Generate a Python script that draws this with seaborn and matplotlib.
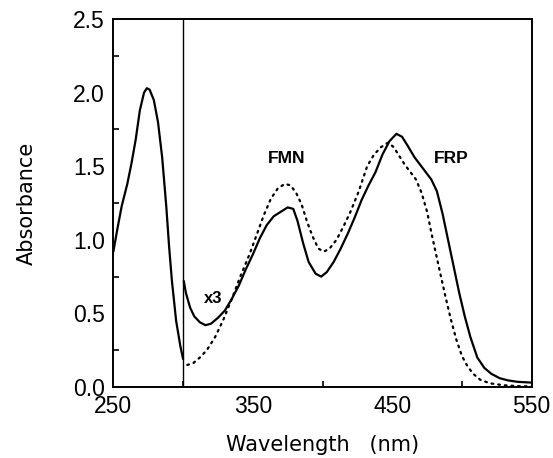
import numpy as np
import pandas as pd
import matplotlib
matplotlib.use("Agg")
import matplotlib.pyplot as plt
import seaborn as sns
from matplotlib.ticker import MultipleLocator, FixedLocator

# UV region of FRP (250-300 nm)
uv_nm = [250, 253, 256, 260, 263, 266, 269, 272, 274, 276, 279, 282, 285, 288, 290, 292, 295, 298, 300]
uv_abs = [0.92, 1.08, 1.23, 1.38, 1.52, 1.68, 1.88, 2.00, 2.03, 2.02, 1.95, 1.80, 1.56, 1.22, 0.95, 0.72, 0.45, 0.28, 0.19]

# FRP visible region (x3)
frp_nm = [300.5, 302, 305, 308, 312, 316, 320, 325, 330, 335, 340, 345, 350, 355, 360, 365, 370, 375, 379,
          382, 386, 390, 395, 399, 403, 408, 413, 418, 423, 428, 433, 438, 443, 448, 453, 457, 461, 466,
          470, 474, 478, 482, 486, 490, 494, 498, 502, 506, 511, 516, 521, 527, 533, 540, 550]
frp_abs = [0.72, 0.64, 0.54, 0.48, 0.44, 0.42, 0.43, 0.47, 0.52, 0.60, 0.69, 0.80, 0.90, 1.01, 1.10, 1.16,
           1.19, 1.22, 1.21, 1.13, 0.98, 0.85, 0.77, 0.75, 0.78, 0.85, 0.94, 1.04, 1.15, 1.27, 1.37, 1.46,
           1.58, 1.67, 1.72, 1.70, 1.64, 1.56, 1.51, 1.46, 1.41, 1.33, 1.18, 1.00, 0.82, 0.64, 0.48, 0.34,
           0.20, 0.13, 0.09, 0.06, 0.045, 0.035, 0.03]

# FMN visible region (dotted)
fmn_nm = [303, 307, 312, 317, 323, 329, 335, 341, 348, 353, 358, 363, 368, 373, 377, 381, 385, 389, 393,
          397, 401, 405, 410, 415, 420, 426, 432, 437, 442, 447, 451, 455, 459, 463, 467, 471, 475, 478,
          481, 484, 488, 492, 496, 500, 504, 508, 513, 520, 530, 540, 550]
fmn_abs = [0.15, 0.16, 0.20, 0.25, 0.34, 0.46, 0.60, 0.75, 0.91, 1.04, 1.17, 1.28, 1.35, 1.38, 1.37, 1.32,
           1.24, 1.12, 1.02, 0.94, 0.92, 0.94, 1.00, 1.09, 1.19, 1.33, 1.50, 1.58, 1.63, 1.66, 1.63, 1.57,
           1.51, 1.46, 1.41, 1.32, 1.19, 1.05, 0.92, 0.79, 0.62, 0.46, 0.32, 0.21, 0.14, 0.09, 0.05, 0.025,
           0.012, 0.006, 0.004]

x_major = [250, 350, 450, 550]
x_minor = [300, 400, 500]
x_labels = ["250", "350", "450", "550"]
y_ticks = [0.0, 0.5, 1.0, 1.5, 2.0, 2.5]
y_labels = ["0.0", "0.5", "1.0", "1.5", "2.0", "2.5"]

sns.set_style("white")
plt.rcParams['font.family'] = ['Liberation Sans', 'DejaVu Sans']
plt.rcParams['text.color'] = 'black'
plt.rcParams['axes.labelcolor'] = 'black'
plt.rcParams['xtick.color'] = 'black'
plt.rcParams['ytick.color'] = 'black'

fig = plt.figure(figsize=(5.53, 4.58), dpi=100)
ax = fig.add_axes([0.205, 0.155, 0.7565, 0.8035])

uv = pd.DataFrame({"nm": uv_nm, "A": uv_abs})
frp = pd.DataFrame({"nm": frp_nm, "A": frp_abs})
fmn = pd.DataFrame({"nm": fmn_nm, "A": fmn_abs})

sns.lineplot(data=uv, x="nm", y="A", ax=ax, color="black", lw=1.6, sort=False,
             solid_joinstyle="round")
sns.lineplot(data=frp, x="nm", y="A", ax=ax, color="black", lw=1.6, sort=False,
             solid_joinstyle="round")
sns.lineplot(data=fmn, x="nm", y="A", ax=ax, color="black", lw=1.6, sort=False,
             linestyle=(0, (0.8, 2.2)), dash_capstyle="round")

ax.axvline(300, color="black", lw=1.0)

ax.set_xlim(250, 550)
ax.set_ylim(0, 2.5)
ax.xaxis.set_major_locator(FixedLocator(x_major))
ax.xaxis.set_minor_locator(FixedLocator(x_minor))
ax.set_xticklabels(x_labels)
ax.yaxis.set_major_locator(FixedLocator(y_ticks))
ax.yaxis.set_minor_locator(MultipleLocator(0.25))
ax.set_yticklabels(y_labels)

ax.tick_params(axis="both", which="major", direction="in", length=7, width=1.2,
               labelsize=16.5, colors="black", pad=6, top=False, right=False)
ax.tick_params(axis="both", which="minor", direction="in", length=4, width=1.2,
               top=False, right=False, bottom=True, left=True)
for s in ax.spines.values():
    s.set_color("black")
    s.set_linewidth(1.4)

ax.set_xlabel("Wavelength   (nm)", fontsize=15, family="DejaVu Sans", labelpad=12, color="black")
ax.set_ylabel("Absorbance", fontsize=15, family="DejaVu Sans", labelpad=26, color="black")

ax.text(374, 1.55, "FMN", fontsize=12.5, fontweight="bold", ha="center", va="center", color="black")
ax.text(492.5, 1.55, "FRP", fontsize=12.5, fontweight="bold", ha="center", va="center", color="black")
ax.text(321.5, 0.60, "x3", fontsize=12, fontweight="bold", ha="center", va="center", color="black")

fig.savefig("out.png", dpi=100)
